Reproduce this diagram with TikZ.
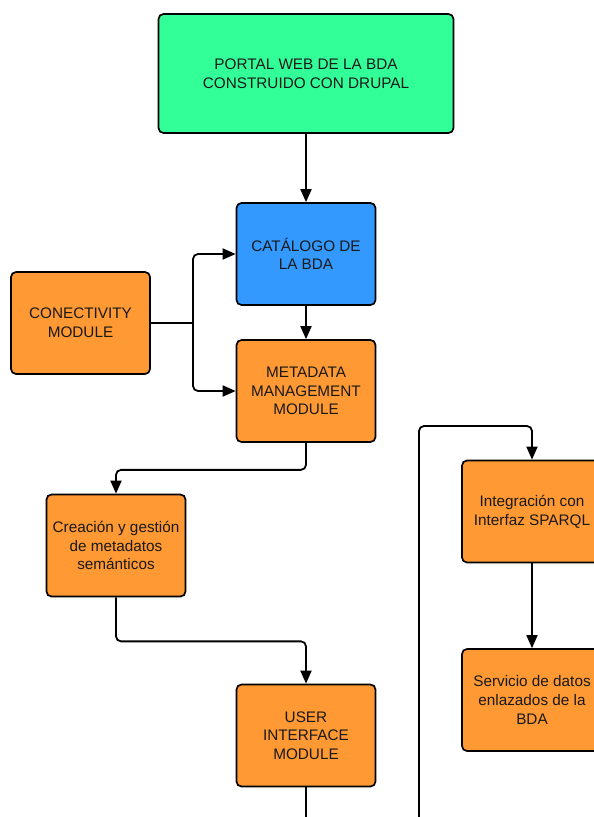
\documentclass[tikz,border=0pt]{standalone}
\usepackage{fontspec}
\setmainfont{Liberation Sans}
\usetikzlibrary{arrows.meta}
\definecolor{boxgreen}{HTML}{33FF99}
\definecolor{boxblue}{HTML}{3399FF}
\definecolor{boxorange}{HTML}{FF9933}
\tikzset{
  box/.style={draw=black, line width=1.7pt, rounded corners=5pt, align=center,
    minimum width=139pt, minimum height=102pt, inner sep=2pt,
    font=\fontsize{15.3pt}{18.7pt}\selectfont, text=black!90},
  obox/.style={box, fill=boxorange},
  conn/.style={draw=black, line width=1.8pt, rounded corners=5pt},
  arr/.style={conn, -{Triangle[length=13pt,width=11pt]}}
}
\begin{document}
\begin{tikzpicture}[x=1pt,y=1pt]
\useasboundingbox (0,0) rectangle (594,-817);
\node[box, fill=boxgreen, minimum width=295pt, minimum height=119pt] (portal) at (306,-73.5) {PORTAL WEB DE LA BDA\\CONSTRUIDO CON DRUPAL};
\node[box, fill=boxblue] (cat) at (306,-254) {CATÁLOGO DE\\LA BDA};
\node[obox] (conn) at (80.5,-323) {CONECTIVITY\\MODULE};
\node[obox] (meta) at (306,-391) {METADATA\\MANAGEMENT\\MODULE};
\node[obox] (crea) at (116,-545.5) {Creación y gestión\\de metadatos\\semánticos};
\node[obox] (ui) at (306,-735.5) {USER\\INTERFACE\\MODULE};
\node[obox, minimum width=140pt] (integ) at (532,-511.5) {Integración con\\Interfaz SPARQL};
\node[obox, minimum width=140pt] (serv) at (532,-700) {Servicio de datos\\enlazados de la\\BDA};

\draw[arr] (portal.south) -- (cat.north);
\draw[arr] (cat.south) -- (meta.north);
\coordinate (j) at (193,-323);
\draw[conn] (conn.east) -- (j);
\draw[arr] (j) |- (cat.west);
\draw[arr] (j) |- (meta.west);
\draw[arr] (meta.south) -- ++(0,-27) -| (crea.north);
\draw[arr] (crea.south) -- ++(0,-44) -| (ui.north);
\coordinate (uiend) at (306,-822);
\draw[conn] (ui.south) -- (uiend);
\coordinate (lbot) at (419,-822);
\coordinate (ltop) at (419,-426);
\draw[arr] (lbot) -- (ltop) -| (integ.north);
\draw[arr] (integ.south) -- (serv.north);
\end{tikzpicture}
\end{document}
